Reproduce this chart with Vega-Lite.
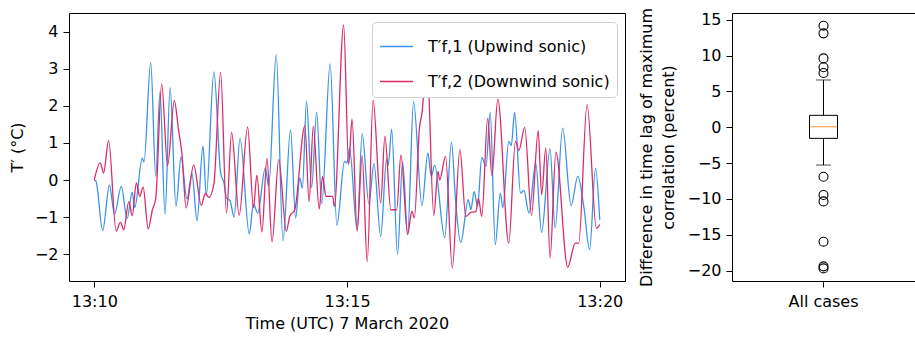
{
  "$schema": "https://vega.github.io/schema/vega-lite/v6.json",
  "background": "white",
  "padding": {"left": 8, "top": 6, "right": 1, "bottom": 2},
  "bounds": "flush",
  "spacing": 107,
  "config": {
    "font": "DejaVu Sans",
    "view": {"stroke": "#000", "strokeWidth": 1},
    "axis": {
      "labelFont": "DejaVu Sans", "labelFontSize": 16, "labelColor": "#000",
      "titleFont": "DejaVu Sans", "titleFontSize": 16, "titleFontWeight": "normal", "titleColor": "#000",
      "tickColor": "#000", "tickSize": 6, "tickWidth": 1, "domain": false, "grid": false, "labelPadding": 5
    }
  },
  "datasets": {
    "series": [
      {"t":"2020-03-07T13:10:00","s":"1","v":0},
      {"t":"2020-03-07T13:10:02","s":"1","v":-0.03},
      {"t":"2020-03-07T13:10:10","s":"1","v":-1.36},
      {"t":"2020-03-07T13:10:18","s":"1","v":-0.14},
      {"t":"2020-03-07T13:10:24","s":"1","v":-0.92},
      {"t":"2020-03-07T13:10:32","s":"1","v":-0.17},
      {"t":"2020-03-07T13:10:39","s":"1","v":-1.04},
      {"t":"2020-03-07T13:10:45","s":"1","v":-0.33},
      {"t":"2020-03-07T13:10:48","s":"1","v":-0.74},
      {"t":"2020-03-07T13:10:57","s":"1","v":0.59},
      {"t":"2020-03-07T13:10:59","s":"1","v":0.48},
      {"t":"2020-03-07T13:11:07","s":"1","v":3.17},
      {"t":"2020-03-07T13:11:13","s":"1","v":0.10},
      {"t":"2020-03-07T13:11:18","s":"1","v":2.38},
      {"t":"2020-03-07T13:11:24","s":"1","v":-0.92},
      {"t":"2020-03-07T13:11:30","s":"1","v":2.49},
      {"t":"2020-03-07T13:11:37","s":"1","v":-0.71},
      {"t":"2020-03-07T13:11:43","s":"1","v":0.62},
      {"t":"2020-03-07T13:11:50","s":"1","v":-0.51},
      {"t":"2020-03-07T13:11:56","s":"1","v":0.17},
      {"t":"2020-03-07T13:12:02","s":"1","v":-1.09},
      {"t":"2020-03-07T13:12:09","s":"1","v":0.91},
      {"t":"2020-03-07T13:12:13","s":"1","v":-0.42},
      {"t":"2020-03-07T13:12:22","s":"1","v":2.91},
      {"t":"2020-03-07T13:12:30","s":"1","v":0.19},
      {"t":"2020-03-07T13:12:34","s":"1","v":-0.08},
      {"t":"2020-03-07T13:12:37","s":"1","v":-0.49},
      {"t":"2020-03-07T13:12:41","s":"1","v":-0.55},
      {"t":"2020-03-07T13:12:46","s":"1","v":-1.00},
      {"t":"2020-03-07T13:12:53","s":"1","v":1.12},
      {"t":"2020-03-07T13:13:04","s":"1","v":-1.45},
      {"t":"2020-03-07T13:13:09","s":"1","v":-0.64},
      {"t":"2020-03-07T13:13:14","s":"1","v":-0.89},
      {"t":"2020-03-07T13:13:23","s":"1","v":0.32},
      {"t":"2020-03-07T13:13:27","s":"1","v":-0.17},
      {"t":"2020-03-07T13:13:36","s":"1","v":3.38},
      {"t":"2020-03-07T13:13:44","s":"1","v":-1.64},
      {"t":"2020-03-07T13:13:53","s":"1","v":1.36},
      {"t":"2020-03-07T13:13:59","s":"1","v":-1.02},
      {"t":"2020-03-07T13:14:04","s":"1","v":0.05},
      {"t":"2020-03-07T13:14:07","s":"1","v":-0.22},
      {"t":"2020-03-07T13:14:12","s":"1","v":2.12},
      {"t":"2020-03-07T13:14:18","s":"1","v":-0.20},
      {"t":"2020-03-07T13:14:24","s":"1","v":1.83},
      {"t":"2020-03-07T13:14:30","s":"1","v":-0.64},
      {"t":"2020-03-07T13:14:40","s":"1","v":3.13},
      {"t":"2020-03-07T13:14:48","s":"1","v":-1.22},
      {"t":"2020-03-07T13:14:57","s":"1","v":0.50},
      {"t":"2020-03-07T13:15:00","s":"1","v":0.46},
      {"t":"2020-03-07T13:15:03","s":"1","v":0.86},
      {"t":"2020-03-07T13:15:12","s":"1","v":-1.34},
      {"t":"2020-03-07T13:15:18","s":"1","v":1.25},
      {"t":"2020-03-07T13:15:26","s":"1","v":-0.64},
      {"t":"2020-03-07T13:15:32","s":"1","v":0.44},
      {"t":"2020-03-07T13:15:40","s":"1","v":-1.52},
      {"t":"2020-03-07T13:15:47","s":"1","v":0.57},
      {"t":"2020-03-07T13:15:49","s":"1","v":0.40},
      {"t":"2020-03-07T13:15:53","s":"1","v":1.37},
      {"t":"2020-03-07T13:16:00","s":"1","v":-2.01},
      {"t":"2020-03-07T13:16:06","s":"1","v":0.48},
      {"t":"2020-03-07T13:16:12","s":"1","v":-1.45},
      {"t":"2020-03-07T13:16:19","s":"1","v":2.12},
      {"t":"2020-03-07T13:16:29","s":"1","v":-0.69},
      {"t":"2020-03-07T13:16:36","s":"1","v":0.73},
      {"t":"2020-03-07T13:16:40","s":"1","v":0.10},
      {"t":"2020-03-07T13:16:44","s":"1","v":0.40},
      {"t":"2020-03-07T13:16:56","s":"1","v":-1.55},
      {"t":"2020-03-07T13:17:04","s":"1","v":1.02},
      {"t":"2020-03-07T13:17:09","s":"1","v":-0.60},
      {"t":"2020-03-07T13:17:15","s":"1","v":-1.68},
      {"t":"2020-03-07T13:17:24","s":"1","v":-0.53},
      {"t":"2020-03-07T13:17:27","s":"1","v":-0.80},
      {"t":"2020-03-07T13:17:31","s":"1","v":-0.31},
      {"t":"2020-03-07T13:17:35","s":"1","v":-0.71},
      {"t":"2020-03-07T13:17:40","s":"1","v":0.61},
      {"t":"2020-03-07T13:17:45","s":"1","v":0.37},
      {"t":"2020-03-07T13:17:50","s":"1","v":1.82},
      {"t":"2020-03-07T13:17:56","s":"1","v":-1.74},
      {"t":"2020-03-07T13:18:02","s":"1","v":-0.35},
      {"t":"2020-03-07T13:18:05","s":"1","v":-0.75},
      {"t":"2020-03-07T13:18:12","s":"1","v":1.04},
      {"t":"2020-03-07T13:18:15","s":"1","v":0.93},
      {"t":"2020-03-07T13:18:19","s":"1","v":1.82},
      {"t":"2020-03-07T13:18:26","s":"1","v":-0.35},
      {"t":"2020-03-07T13:18:30","s":"1","v":-0.28},
      {"t":"2020-03-07T13:18:36","s":"1","v":-0.89},
      {"t":"2020-03-07T13:18:44","s":"1","v":0.46},
      {"t":"2020-03-07T13:18:51","s":"1","v":-1.41},
      {"t":"2020-03-07T13:19:01","s":"1","v":0.84},
      {"t":"2020-03-07T13:19:07","s":"1","v":-1.30},
      {"t":"2020-03-07T13:19:16","s":"1","v":1.40},
      {"t":"2020-03-07T13:19:26","s":"1","v":-0.69},
      {"t":"2020-03-07T13:19:34","s":"1","v":0.10},
      {"t":"2020-03-07T13:19:41","s":"1","v":-0.70},
      {"t":"2020-03-07T13:19:48","s":"1","v":-1.88},
      {"t":"2020-03-07T13:19:55","s":"1","v":0.32},
      {"t":"2020-03-07T13:20:00","s":"1","v":-1.07},
      {"t":"2020-03-07T13:10:00","s":"2","v":0},
      {"t":"2020-03-07T13:10:07","s":"2","v":0.46},
      {"t":"2020-03-07T13:10:11","s":"2","v":0.19},
      {"t":"2020-03-07T13:10:17","s":"2","v":1.06},
      {"t":"2020-03-07T13:10:26","s":"2","v":-1.38},
      {"t":"2020-03-07T13:10:31","s":"2","v":-1.14},
      {"t":"2020-03-07T13:10:35","s":"2","v":-1.34},
      {"t":"2020-03-07T13:10:41","s":"2","v":-0.58},
      {"t":"2020-03-07T13:10:45","s":"2","v":-0.96},
      {"t":"2020-03-07T13:10:50","s":"2","v":-0.08},
      {"t":"2020-03-07T13:10:54","s":"2","v":-0.44},
      {"t":"2020-03-07T13:10:58","s":"2","v":-0.19},
      {"t":"2020-03-07T13:11:04","s":"2","v":-1.32},
      {"t":"2020-03-07T13:11:09","s":"2","v":-0.80},
      {"t":"2020-03-07T13:11:13","s":"2","v":-0.49},
      {"t":"2020-03-07T13:11:20","s":"2","v":2.59},
      {"t":"2020-03-07T13:11:27","s":"2","v":0.39},
      {"t":"2020-03-07T13:11:35","s":"2","v":2.14},
      {"t":"2020-03-07T13:11:40","s":"2","v":1.36},
      {"t":"2020-03-07T13:11:44","s":"2","v":0.73},
      {"t":"2020-03-07T13:11:49","s":"2","v":-0.75},
      {"t":"2020-03-07T13:11:58","s":"2","v":0.41},
      {"t":"2020-03-07T13:12:07","s":"2","v":-0.68},
      {"t":"2020-03-07T13:12:12","s":"2","v":-0.35},
      {"t":"2020-03-07T13:12:16","s":"2","v":-0.47},
      {"t":"2020-03-07T13:12:22","s":"2","v":-0.10},
      {"t":"2020-03-07T13:12:30","s":"2","v":2.90},
      {"t":"2020-03-07T13:12:37","s":"2","v":-0.89},
      {"t":"2020-03-07T13:12:43","s":"2","v":1.28},
      {"t":"2020-03-07T13:12:52","s":"2","v":-0.95},
      {"t":"2020-03-07T13:13:02","s":"2","v":1.43},
      {"t":"2020-03-07T13:13:09","s":"2","v":-0.75},
      {"t":"2020-03-07T13:13:13","s":"2","v":0.13},
      {"t":"2020-03-07T13:13:19","s":"2","v":-1.40},
      {"t":"2020-03-07T13:13:25","s":"2","v":0.58},
      {"t":"2020-03-07T13:13:31","s":"2","v":-1.67},
      {"t":"2020-03-07T13:13:39","s":"2","v":0.55},
      {"t":"2020-03-07T13:13:48","s":"2","v":-1.38},
      {"t":"2020-03-07T13:13:52","s":"2","v":-0.98},
      {"t":"2020-03-07T13:13:58","s":"2","v":-0.80},
      {"t":"2020-03-07T13:14:10","s":"2","v":1.46},
      {"t":"2020-03-07T13:14:15","s":"2","v":-0.58},
      {"t":"2020-03-07T13:14:20","s":"2","v":1.45},
      {"t":"2020-03-07T13:14:27","s":"2","v":-0.78},
      {"t":"2020-03-07T13:14:31","s":"2","v":0.10},
      {"t":"2020-03-07T13:14:35","s":"2","v":-0.44},
      {"t":"2020-03-07T13:14:43","s":"2","v":-0.44},
      {"t":"2020-03-07T13:14:45","s":"2","v":-0.71},
      {"t":"2020-03-07T13:14:56","s":"2","v":4.17},
      {"t":"2020-03-07T13:15:02","s":"2","v":0.41},
      {"t":"2020-03-07T13:15:06","s":"2","v":1.64},
      {"t":"2020-03-07T13:15:12","s":"2","v":-1.38},
      {"t":"2020-03-07T13:15:18","s":"2","v":0.66},
      {"t":"2020-03-07T13:15:24","s":"2","v":-2.20},
      {"t":"2020-03-07T13:15:31","s":"2","v":2.15},
      {"t":"2020-03-07T13:15:40","s":"2","v":-0.62},
      {"t":"2020-03-07T13:15:45","s":"2","v":1.18},
      {"t":"2020-03-07T13:15:52","s":"2","v":-0.80},
      {"t":"2020-03-07T13:15:59","s":"2","v":-0.80},
      {"t":"2020-03-07T13:16:04","s":"2","v":0.68},
      {"t":"2020-03-07T13:16:12","s":"2","v":-1.47},
      {"t":"2020-03-07T13:16:17","s":"2","v":-0.84},
      {"t":"2020-03-07T13:16:20","s":"2","v":-1.02},
      {"t":"2020-03-07T13:16:26","s":"2","v":1.40},
      {"t":"2020-03-07T13:16:29","s":"2","v":1.80},
      {"t":"2020-03-07T13:16:35","s":"2","v":3.20},
      {"t":"2020-03-07T13:16:43","s":"2","v":-0.95},
      {"t":"2020-03-07T13:16:48","s":"2","v":0.23},
      {"t":"2020-03-07T13:16:50","s":"2","v":0.00},
      {"t":"2020-03-07T13:16:57","s":"2","v":0.64},
      {"t":"2020-03-07T13:17:05","s":"2","v":-2.37},
      {"t":"2020-03-07T13:17:14","s":"2","v":0.82},
      {"t":"2020-03-07T13:17:21","s":"2","v":-0.98},
      {"t":"2020-03-07T13:17:27","s":"2","v":-0.87},
      {"t":"2020-03-07T13:17:33","s":"2","v":-0.85},
      {"t":"2020-03-07T13:17:36","s":"2","v":-0.49},
      {"t":"2020-03-07T13:17:40","s":"2","v":-0.98},
      {"t":"2020-03-07T13:17:47","s":"2","v":1.67},
      {"t":"2020-03-07T13:17:52","s":"2","v":0.12},
      {"t":"2020-03-07T13:17:59","s":"2","v":2.18},
      {"t":"2020-03-07T13:18:12","s":"2","v":-1.70},
      {"t":"2020-03-07T13:18:20","s":"2","v":1.04},
      {"t":"2020-03-07T13:18:24","s":"2","v":0.80},
      {"t":"2020-03-07T13:18:31","s":"2","v":1.42},
      {"t":"2020-03-07T13:18:39","s":"2","v":-0.95},
      {"t":"2020-03-07T13:18:47","s":"2","v":1.33},
      {"t":"2020-03-07T13:18:51","s":"2","v":-0.40},
      {"t":"2020-03-07T13:18:56","s":"2","v":0.86},
      {"t":"2020-03-07T13:19:01","s":"2","v":-2.10},
      {"t":"2020-03-07T13:19:08","s":"2","v":0.75},
      {"t":"2020-03-07T13:19:22","s":"2","v":-2.35},
      {"t":"2020-03-07T13:19:31","s":"2","v":-1.70},
      {"t":"2020-03-07T13:19:35","s":"2","v":-1.70},
      {"t":"2020-03-07T13:19:45","s":"2","v":2.03},
      {"t":"2020-03-07T13:19:56","s":"2","v":-1.30},
      {"t":"2020-03-07T13:20:00","s":"2","v":-1.20}
    ],
    "box": [{"g":"All cases","lo":-5.27,"q1":-1.55,"med":0.08,"q3":1.66,"hi":6.59}],
    "out": [
      {"g":"All cases","v":14.16},{"g":"All cases","v":13.09},{"g":"All cases","v":9.6},
      {"g":"All cases","v":8.36},{"g":"All cases","v":7.56},{"g":"All cases","v":-6.9},
      {"g":"All cases","v":-9.45},{"g":"All cases","v":-10.34},{"g":"All cases","v":-15.96},
      {"g":"All cases","v":-19.4},{"g":"All cases","v":-19.68}
    ]
  },
  "hconcat": [
    {
      "width": 556,
      "height": 268,
      "data": {"name": "series"},
      "mark": {"type": "line", "interpolate": "monotone", "strokeWidth": 1.3},
      "encoding": {
        "x": {
          "field": "t", "type": "temporal",
          "scale": {"domain": [
            {"year": 2020, "month": 3, "date": 7, "hours": 13, "minutes": 9, "seconds": 30},
            {"year": 2020, "month": 3, "date": 7, "hours": 13, "minutes": 20, "seconds": 30}
          ]},
          "axis": {
            "format": "%H:%M",
            "values": [
              {"year": 2020, "month": 3, "date": 7, "hours": 13, "minutes": 10},
              {"year": 2020, "month": 3, "date": 7, "hours": 13, "minutes": 15},
              {"year": 2020, "month": 3, "date": 7, "hours": 13, "minutes": 20}
            ],
            "labelPadding": 6,
            "title": "Time (UTC) 7 March 2020",
            "titleY": 34, "titleBaseline": "top"
          }
        },
        "y": {
          "field": "v", "type": "quantitative",
          "scale": {"domain": [-2.72, 4.5], "nice": false, "zero": false},
          "axis": {
            "values": [-2, -1, 0, 1, 2, 3, 4],
            "title": "T′ (°C)",
            "titleX": -52, "titleY": 134, "titleBaseline": "middle", "titleAlign": "center", "titleAngle": -90
          }
        },
        "color": {
          "field": "s", "type": "nominal",
          "scale": {"domain": ["1", "2"], "range": ["#3a93e6", "#dc2b68"]},
          "legend": {
            "title": null,
            "orient": "none", "legendX": 303, "legendY": 9,
            "labelExpr": "datum.label == '1' ? 'T′f,1 (Upwind sonic)' : 'T′f,2 (Downwind sonic)'",
            "labelLimit": 400,
            "symbolType": "stroke", "symbolStrokeWidth": 1.3, "symbolSize": 1089,
            "labelFont": "DejaVu Sans", "labelFontSize": 16, "labelColor": "#000", "labelOffset": 14,
            "fillColor": "white", "strokeColor": "#d0d0d0", "cornerRadius": 4,
            "padding": 7, "rowPadding": 9
          }
        }
      }
    },
    {
      "width": 183,
      "height": 268,
      "layer": [
        {
          "data": {"name": "box"},
          "mark": {"type": "rule", "color": "#000", "strokeWidth": 1},
          "encoding": {
            "x": {"field": "g", "type": "nominal", "scale": {"type": "band", "paddingInner": 0, "paddingOuter": 0},
                  "axis": {"title": null, "labelAngle": 0, "labelPadding": 6}},
            "y": {"field": "lo", "type": "quantitative",
                  "scale": {"domain": [-21.44, 15.93], "nice": false, "zero": false},
                  "axis": {"values": [-20, -15, -10, -5, 0, 5, 10, 15],
                           "title": ["Difference in time lag of maximum", "correlation (percent)"],
                           "titleX": -86, "titleY": 134, "titleBaseline": "middle", "titleAlign": "center",
                           "titleAngle": -90, "titleLineHeight": 22}},
            "y2": {"field": "q1"}
          }
        },
        {
          "data": {"name": "box"},
          "mark": {"type": "rule", "color": "#000", "strokeWidth": 1},
          "encoding": {
            "x": {"field": "g", "type": "nominal", "axis": {"title": null, "labelAngle": 0, "labelPadding": 6}},
            "y": {"field": "q3", "type": "quantitative",
                  "axis": {"values": [-20, -15, -10, -5, 0, 5, 10, 15],
                           "title": ["Difference in time lag of maximum", "correlation (percent)"],
                           "titleX": -86, "titleY": 134, "titleBaseline": "middle", "titleAlign": "center",
                           "titleAngle": -90, "titleLineHeight": 22}},
            "y2": {"field": "hi"}
          }
        },
        {
          "data": {"name": "box"},
          "mark": {"type": "tick", "color": "#000", "size": 15, "thickness": 1},
          "encoding": {
            "x": {"field": "g", "type": "nominal", "axis": {"title": null, "labelAngle": 0, "labelPadding": 6}},
            "y": {"field": "lo", "type": "quantitative",
                  "axis": {"values": [-20, -15, -10, -5, 0, 5, 10, 15],
                           "title": ["Difference in time lag of maximum", "correlation (percent)"],
                           "titleX": -86, "titleY": 134, "titleBaseline": "middle", "titleAlign": "center",
                           "titleAngle": -90, "titleLineHeight": 22}}
          }
        },
        {
          "data": {"name": "box"},
          "mark": {"type": "tick", "color": "#000", "size": 15, "thickness": 1},
          "encoding": {
            "x": {"field": "g", "type": "nominal", "axis": {"title": null, "labelAngle": 0, "labelPadding": 6}},
            "y": {"field": "hi", "type": "quantitative",
                  "axis": {"values": [-20, -15, -10, -5, 0, 5, 10, 15],
                           "title": ["Difference in time lag of maximum", "correlation (percent)"],
                           "titleX": -86, "titleY": 134, "titleBaseline": "middle", "titleAlign": "center",
                           "titleAngle": -90, "titleLineHeight": 22}}
          }
        },
        {
          "data": {"name": "box"},
          "mark": {"type": "bar", "width": 28, "fill": "white", "stroke": "#000", "strokeWidth": 1},
          "encoding": {
            "x": {"field": "g", "type": "nominal", "axis": {"title": null, "labelAngle": 0, "labelPadding": 6}},
            "y": {"field": "q1", "type": "quantitative",
                  "axis": {"values": [-20, -15, -10, -5, 0, 5, 10, 15],
                           "title": ["Difference in time lag of maximum", "correlation (percent)"],
                           "titleX": -86, "titleY": 134, "titleBaseline": "middle", "titleAlign": "center",
                           "titleAngle": -90, "titleLineHeight": 22}},
            "y2": {"field": "q3"}
          }
        },
        {
          "data": {"name": "box"},
          "mark": {"type": "tick", "color": "#ff7f0e", "size": 28, "thickness": 1.2},
          "encoding": {
            "x": {"field": "g", "type": "nominal", "axis": {"title": null, "labelAngle": 0, "labelPadding": 6}},
            "y": {"field": "med", "type": "quantitative",
                  "axis": {"values": [-20, -15, -10, -5, 0, 5, 10, 15],
                           "title": ["Difference in time lag of maximum", "correlation (percent)"],
                           "titleX": -86, "titleY": 134, "titleBaseline": "middle", "titleAlign": "center",
                           "titleAngle": -90, "titleLineHeight": 22}}
          }
        },
        {
          "data": {"name": "out"},
          "mark": {"type": "point", "shape": "circle", "filled": false, "size": 80, "color": "#000", "strokeWidth": 1.1, "opacity": 1},
          "encoding": {
            "x": {"field": "g", "type": "nominal", "axis": {"title": null, "labelAngle": 0, "labelPadding": 6}},
            "y": {"field": "v", "type": "quantitative",
                  "axis": {"values": [-20, -15, -10, -5, 0, 5, 10, 15],
                           "title": ["Difference in time lag of maximum", "correlation (percent)"],
                           "titleX": -86, "titleY": 134, "titleBaseline": "middle", "titleAlign": "center",
                           "titleAngle": -90, "titleLineHeight": 22}}
          }
        }
      ]
    }
  ]
}
